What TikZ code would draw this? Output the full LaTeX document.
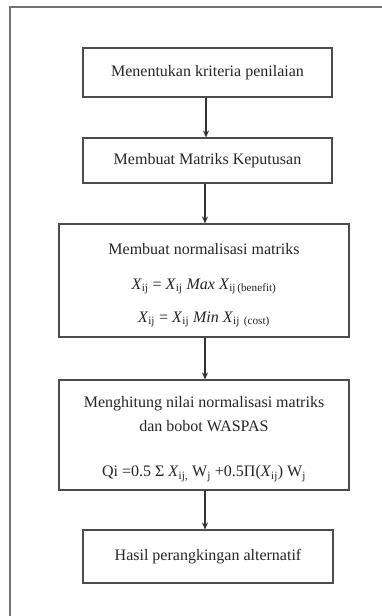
\documentclass[tikz,border=0pt]{standalone}
\usepackage{fontspec}
\setmainfont{Liberation Serif}
\usetikzlibrary{arrows.meta}
\tikzset{
  boxnode/.style={draw=black!70, line width=1.1pt, fill=white, inner sep=0pt, align=center,
    font=\fontsize{16}{20}\selectfont, text=black!85},
  flowarrow/.style={draw=black!80, line width=1.2pt, -{Stealth[length=7pt,width=6pt]}},
  framestyle/.style={draw=black!55, line width=1.5pt}
}
\newcommand{\sbx}[1]{\textsubscript{#1}}
\begin{document}
\begin{tikzpicture}[x=1pt,y=-1pt]
\useasboundingbox (0,0) rectangle (382,616);
\fill[white] (0,0) rectangle (382,616);
\coordinate (ftop) at (382,7);
\coordinate (fcorner) at (10,7);
\coordinate (fbot) at (10,616);
\draw[framestyle] (ftop) -- (fcorner) -- (fbot);

\node[boxnode, minimum width=249pt, minimum height=49pt] (b1) at (207.5,72.5) {Menentukan kriteria penilaian};
\node[boxnode, minimum width=249pt, minimum height=45pt] (b2) at (207.5,160.5) {Membuat Matriks Keputusan};
\node[boxnode, minimum width=290pt, minimum height=113pt] (b3) at (204,280.5) {};
\node[align=center, font=\fontsize{16}{20}\selectfont, text=black!85, inner sep=0pt] (b3t) at (204,285)
  {Membuat normalisasi matriks\\[15pt]
   \textit{X}\sbx{ij} = \textit{X}\sbx{ij} \textit{Max X}\sbx{ij\,(benefit)}\\[13pt]
   \textit{X}\sbx{ij} = \textit{X}\sbx{ij} \textit{Min X}\sbx{ij} \sbx{(cost)}};
\node[boxnode, minimum width=290pt, minimum height=110pt] (b4) at (204,435) {};
\node[align=center, font=\fontsize{16}{20}\selectfont, text=black!85, inner sep=0pt] (b4t) at (204,439)
  {Menghitung nilai normalisasi matriks\\[4pt]
   dan bobot WASPAS\\[25pt]
   Qi =0.5 Σ \textit{X}\sbx{ij,} W\sbx{j} +0.5Π(\textit{X}\sbx{ij}) W\sbx{j}};
\node[boxnode, minimum width=250pt, minimum height=53pt] (b5) at (208,556.5) {Hasil perangkingan alternatif};

\draw[flowarrow] (b1.south -| 206,0) -- (b2.north -| 206,0);
\draw[flowarrow] (b2.south -| 205,0) -- (b3.north -| 205,0);
\draw[flowarrow] (b3.south -| 205,0) -- (b4.north -| 205,0);
\draw[flowarrow] (b4.south -| 205,0) -- (b5.north -| 205,0);
\end{tikzpicture}
\end{document}
